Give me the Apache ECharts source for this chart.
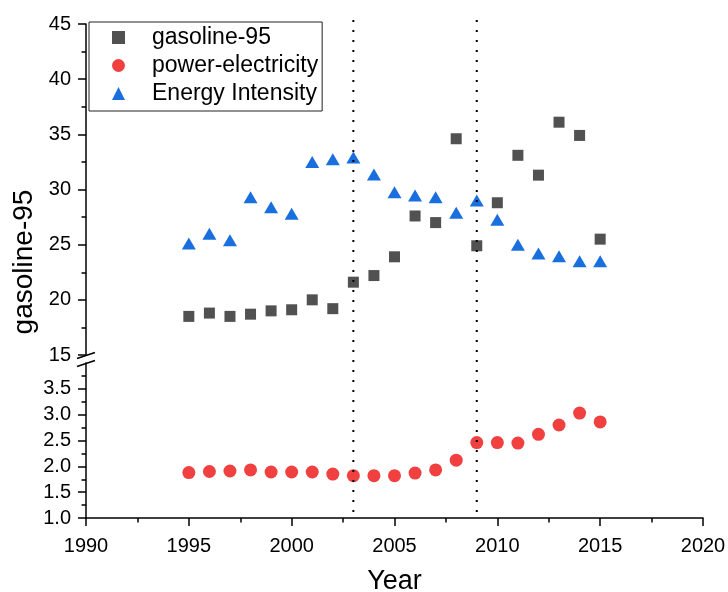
<!DOCTYPE html>
<html><head><meta charset="utf-8">
<script src="https://cdn.jsdelivr.net/npm/echarts@6/dist/echarts.min.js"></script>
<style>html,body{margin:0;padding:0;background:#fff}#c{width:728px;height:592px}</style>
</head><body><div id="c"></div>
<script>
// ---- data ----
const years = [1995,1996,1997,1998,1999,2000,2001,2002,2003,2004,2005,2006,2007,2008,2009,2010,2011,2012,2013,2014,2015];
const gasoline95 = [18.5,18.8,18.5,18.7,19.0,19.1,20.0,19.2,21.6,22.2,23.9,27.6,27.0,34.6,24.9,28.8,33.1,31.3,36.1,34.9,25.5];
const powerElectricity = [1.88,1.90,1.91,1.93,1.89,1.89,1.89,1.85,1.82,1.82,1.82,1.87,1.93,2.12,2.46,2.46,2.45,2.62,2.80,3.03,2.86];
const energyIntensity = [25.1,26.0,25.4,29.3,28.4,27.8,32.5,32.75,32.9,31.35,29.75,29.45,29.3,27.9,29.0,27.25,25.0,24.2,23.95,23.5,23.5];
const seriesNames = ['gasoline-95','power-electricity','Energy Intensity'];
const eventYears = [2003, 2009];
const xTicks = {min:1990, max:2020, interval:5};
const upperTicks = {min:15, max:45, interval:5};
const lowerTicks = {min:1.0, max:4.0, interval:0.5};
const lowerLabelValues = [1.0,1.5,2.0,2.5,3.0,3.5];
const xTitle = 'Year';
const yTitle = 'gasoline-95';

const FONT = 'Liberation Sans, Arial, sans-serif';
const colors = ['#515151','#F14040','#1A6FDF'];
const chart = echarts.init(document.getElementById('c'), null, {renderer:'canvas'});

const axisLine = {show:true, lineStyle:{color:'#000', width:1.5}};
const axisTick = {show:true, inside:false, length:8, lineStyle:{color:'#000', width:1.5}};
const minorTick = {show:true, splitNumber:2, length:4.5, lineStyle:{color:'#000', width:1.5}};
const labelStyle = {color:'#000', fontFamily:FONT, fontSize:20};

const option = {
  animation:false,
  backgroundColor:'#fff',
  grid:[
    {left:86, right:25, top:24, height:331, containLabel:false, outerBoundsMode:'none'},
    {left:86, right:25, top:363, bottom:74, containLabel:false, outerBoundsMode:'none'}
  ],
  xAxis:[
    {type:'value', gridIndex:0, min:xTicks.min, max:xTicks.max, interval:xTicks.interval, show:false},
    {type:'value', gridIndex:1, min:xTicks.min, max:xTicks.max, interval:xTicks.interval,
     axisLine, axisTick, minorTick, splitLine:{show:false},
     axisLabel:Object.assign({margin:18, formatter:v=>String(v)}, labelStyle),
     name:xTitle, nameLocation:'middle', nameGap:50,
     nameTextStyle:{color:'#000', fontFamily:FONT, fontSize:27}}
  ],
  yAxis:[
    {type:'value', gridIndex:0, min:upperTicks.min, max:upperTicks.max, interval:upperTicks.interval,
     axisLine, axisTick, minorTick, splitLine:{show:false},
     axisLabel:Object.assign({margin:15, formatter:v=>String(v)}, labelStyle)},
    {type:'value', gridIndex:1, min:lowerTicks.min, max:lowerTicks.max, interval:lowerTicks.interval,
     axisLine, minorTick, splitLine:{show:false},
     axisTick:Object.assign({customValues:lowerLabelValues}, axisTick),
     axisLabel:Object.assign({margin:15, customValues:lowerLabelValues, formatter:v=>Number(v).toFixed(1)}, labelStyle)}
  ],
  legend:{
    orient:'vertical', left:89, top:22,
    data:[
      {name:seriesNames[0], icon:'rect'},
      {name:seriesNames[1], icon:'circle'},
      {name:seriesNames[2], icon:'triangle'}
    ],
    itemWidth:13, itemHeight:13, itemGap:5,
    padding:[4,4,6,23],
    borderColor:'#222', borderWidth:1,
    textStyle:{color:'#000', fontFamily:FONT, fontSize:23, padding:[0,0,0,22]}
  },
  series:[
    {name:seriesNames[0], type:'scatter', xAxisIndex:0, yAxisIndex:0, symbol:'rect', symbolSize:11,
     itemStyle:{color:colors[0], opacity:1}, data:years.map((y,i)=>[y,gasoline95[i]])},
    {name:seriesNames[1], type:'scatter', xAxisIndex:1, yAxisIndex:1, symbol:'circle', symbolSize:13,
     itemStyle:{color:colors[1], opacity:1}, data:years.map((y,i)=>[y,powerElectricity[i]])},
    {name:seriesNames[2], type:'scatter', xAxisIndex:0, yAxisIndex:0, symbol:'triangle', symbolSize:[14,12],
     itemStyle:{color:colors[2], opacity:1}, data:years.map((y,i)=>[y,energyIntensity[i]])}
  ]
};
chart.setOption(option);

// overlays computed through the chart's own scales
const g = [];
eventYears.forEach(yr=>{
  const top = chart.convertToPixel({xAxisIndex:0, yAxisIndex:0}, [yr, upperTicks.max]);
  const bot = chart.convertToPixel({xAxisIndex:1, yAxisIndex:1}, [yr, lowerTicks.min]);
  g.push({type:'line', z:100, silent:true,
    shape:{x1:top[0], y1:top[1]-4, x2:bot[0], y2:bot[1]-1},
    style:{stroke:'#000', lineWidth:2, lineDash:[2,8]}});
});
const ub = chart.convertToPixel({xAxisIndex:0, yAxisIndex:0}, [xTicks.min, upperTicks.min]);
const lt = chart.convertToPixel({xAxisIndex:1, yAxisIndex:1}, [xTicks.min, lowerTicks.max]);
[ub[1]+0.5, lt[1]+0.5].forEach(y=>{
  g.push({type:'line', z:100, silent:true,
    shape:{x1:ub[0]-9, y1:y+3, x2:ub[0]+9, y2:y-3},
    style:{stroke:'#000', lineWidth:1.5}});
});
const yTop = chart.convertToPixel({xAxisIndex:0, yAxisIndex:0}, [xTicks.min, upperTicks.max])[1];
const yBot = chart.convertToPixel({xAxisIndex:1, yAxisIndex:1}, [xTicks.min, lowerTicks.min])[1];
g.push({type:'text', z:100, silent:true, x:24, y:(yTop+yBot)/2 - 9, rotation:Math.PI/2,
  style:{text:yTitle, fill:'#000', font:'28px '+FONT, align:'center', verticalAlign:'middle'}});
chart.setOption({graphic:g});
</script>
</body></html>
